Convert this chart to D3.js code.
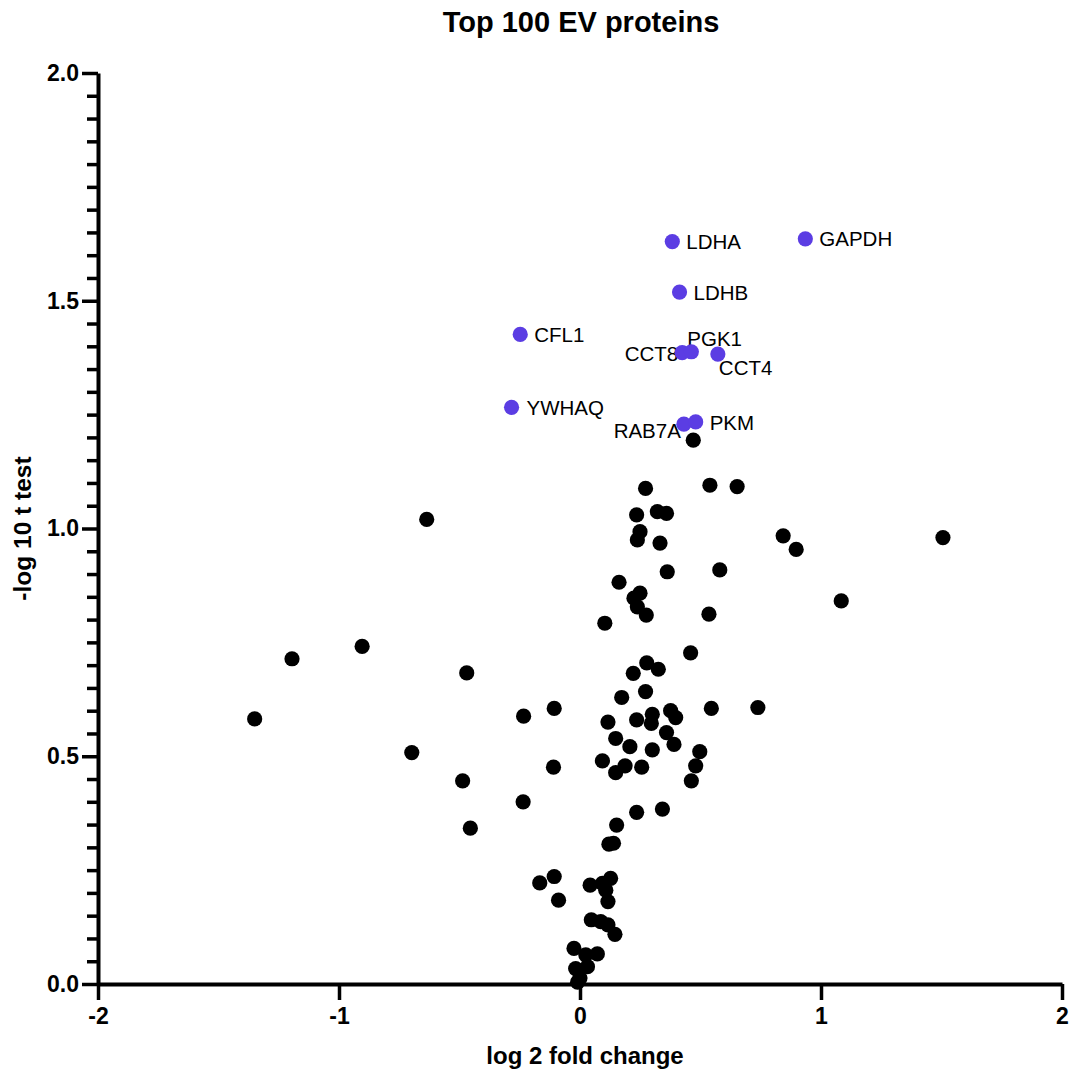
<!DOCTYPE html>
<html>
<head>
<meta charset="utf-8">
<script src="https://cdn.jsdelivr.net/npm/d3@7"></script>
<style>
  html, body { margin: 0; padding: 0; background: #fff; }
  svg { display: block; }
  text { font-family: "Liberation Sans", Arial, Helvetica, sans-serif; }
</style>
</head>
<body>
<div id="chart"></div>
<script>
// ---- Data ----
const chartTitle = "Top 100 EV proteins";
const xTitle = "log 2 fold change";
const yTitle = "-log 10 t test";

const xTicks = [-2, -1, 0, 1, 2];
const yTicks = [0, 0.5, 1.0, 1.5, 2.0];

// Non-highlighted proteins: log2 fold change and -log10 p
const bgLog2FC = [
  0.470, 0.272, 0.539, 0.652, 0.235, 0.321, 0.359, 0.249, 0.238, 0.332,
  0.843, 0.897, 1.506, -0.636, 0.362, 0.580, 0.162, 0.249, 0.224, 0.238,
  0.275, 0.535, 0.103, 1.084, 0.459, 0.277, 0.325, 0.221, 0.272, 0.173,
  -0.107, 0.545, 0.738, 0.116, 0.235, 0.300, 0.296, 0.376, 0.397, 0.148,
  0.359, 0.207, 0.300, 0.390, 0.497, -0.110, 0.093, 0.148, 0.187, 0.256,
  0.480, 0.462, 0.235, 0.342, 0.152, 0.120, 0.139, -0.167, -0.107, -0.089,
  0.042, 0.093, 0.127, 0.107, 0.116, 0.047, 0.086, 0.116, 0.145, -0.025,
  0.024, 0.072, -0.018, 0.031, 0.000, -0.904, -1.195, -1.350, -0.470, -0.234,
  -0.698, -0.487, -0.236, -0.455, -0.010
];
const bgNegLog10P = [
  1.194, 1.088, 1.095, 1.092, 1.030, 1.037, 1.033, 0.993, 0.975, 0.968,
  0.984, 0.954, 0.980, 1.020, 0.905, 0.909, 0.882, 0.858, 0.847, 0.828,
  0.810, 0.812, 0.792, 0.841, 0.727, 0.705, 0.691, 0.682, 0.642, 0.629,
  0.605, 0.605, 0.607, 0.575, 0.580, 0.592, 0.572, 0.600, 0.585, 0.539,
  0.552, 0.521, 0.514, 0.526, 0.510, 0.476, 0.490, 0.464, 0.479, 0.476,
  0.479, 0.446, 0.377, 0.384, 0.349, 0.307, 0.309, 0.222, 0.236, 0.184,
  0.217, 0.221, 0.232, 0.206, 0.181, 0.141, 0.137, 0.130, 0.109, 0.078,
  0.064, 0.066, 0.034, 0.038, 0.013, 0.741, 0.714, 0.582, 0.683, 0.588,
  0.508, 0.446, 0.400, 0.342, 0.004
];

// Highlighted proteins
const hlNames = ["GAPDH", "LDHA", "LDHB", "CFL1", "CCT8", "PGK1", "CCT4", "YWHAQ", "RAB7A", "PKM"];
const hlLog2FC = [0.935, 0.383, 0.413, -0.248, 0.424, 0.462, 0.572, -0.284, 0.431, 0.480];
const hlNegLog10P = [1.636, 1.630, 1.519, 1.426, 1.386, 1.388, 1.383, 1.266, 1.229, 1.234];

// Label placement relative to each highlighted dot (styling only)
const labelPlacement = {
  GAPDH: { dx: 14, dy: 0, anchor: "start" },
  LDHA:  { dx: 14, dy: 0, anchor: "start" },
  LDHB:  { dx: 14, dy: 0, anchor: "start" },
  CFL1:  { dx: 14, dy: 0, anchor: "start" },
  CCT8:  { dx: -4, dy: 1, anchor: "end" },
  PGK1:  { dx: -4, dy: -13, anchor: "start" },
  CCT4:  { dx: 1, dy: 13, anchor: "start" },
  YWHAQ: { dx: 15, dy: 0, anchor: "start" },
  RAB7A: { dx: -3, dy: 6, anchor: "end" },
  PKM:   { dx: 14, dy: 1, anchor: "start" }
};

// ---- Layout ----
const W = 1073, H = 1075;
const margin = { left: 98, top: 73, right: 11, bottom: 91 };
const innerW = W - margin.left - margin.right;   // 964
const innerH = H - margin.top - margin.bottom;   // 911

const svg = d3.select("#chart").append("svg")
  .attr("width", W).attr("height", H);

const x = d3.scaleLinear().domain([-2, 2]).range([margin.left, margin.left + innerW]);
const y = d3.scaleLinear().domain([0, 2]).range([margin.top + innerH, margin.top]);

const highlightColor = "#5b3de3";
const dotR = 7.6;

// Title
svg.append("text")
  .attr("x", 581).attr("y", 22)
  .attr("text-anchor", "middle").attr("dominant-baseline", "central")
  .style("font-size", "29px").style("font-weight", "bold")
  .text(chartTitle);

// Y axis: minor ticks
const minorVals = d3.range(0, 41).map(i => i * 0.05).filter(v => Math.abs(v * 2 - Math.round(v * 2)) > 1e-6);
const yMinor = svg.append("g")
  .attr("transform", `translate(${margin.left},0)`)
  .call(d3.axisLeft(y).tickValues(minorVals).tickSize(11).tickSizeOuter(0).tickFormat(""));
yMinor.select(".domain").remove();
yMinor.selectAll(".tick line").attr("stroke", "#000").attr("stroke-width", 3.5);

// Y axis: major ticks
const yAxis = svg.append("g")
  .attr("transform", `translate(${margin.left},0)`)
  .call(d3.axisLeft(y).tickValues(yTicks).tickSize(16).tickSizeOuter(0).tickPadding(3)
    .tickFormat(d => d.toFixed(1)));
yAxis.select(".domain").attr("stroke", "#000").attr("stroke-width", 4);
yAxis.selectAll(".tick line").attr("stroke", "#000").attr("stroke-width", 3.5);
yAxis.selectAll(".tick text")
  .attr("fill", "#000")
  .style("font-size", "23px").style("font-weight", "bold")
  .style("font-family", "'Liberation Sans', Arial, sans-serif");

// X axis
const xAxis = svg.append("g")
  .attr("transform", `translate(0,${margin.top + innerH})`)
  .call(d3.axisBottom(x).tickValues(xTicks).tickSize(16).tickSizeOuter(0).tickPadding(8)
    .tickFormat(d => String(d)));
xAxis.select(".domain").attr("stroke", "#000").attr("stroke-width", 4);
xAxis.selectAll(".tick line").attr("stroke", "#000").attr("stroke-width", 3.5);
xAxis.selectAll(".tick text")
  .attr("fill", "#000")
  .style("font-size", "23px").style("font-weight", "bold")
  .style("font-family", "'Liberation Sans', Arial, sans-serif");

// Axis titles
svg.append("text")
  .attr("x", 585).attr("y", 1055)
  .attr("text-anchor", "middle").attr("dominant-baseline", "central")
  .style("font-size", "24px").style("font-weight", "bold")
  .text(xTitle);

svg.append("text")
  .attr("transform", `translate(22,${(y(0) + y(2)) / 2}) rotate(-90)`)
  .attr("text-anchor", "middle").attr("dominant-baseline", "central")
  .style("font-size", "24.5px").style("font-weight", "bold")
  .text(yTitle);

// Background points
const bgData = bgLog2FC.map((v, i) => ({ fc: v, p: bgNegLog10P[i] }));
svg.append("g").selectAll("circle").data(bgData).join("circle")
  .attr("cx", d => x(d.fc)).attr("cy", d => y(d.p))
  .attr("r", dotR).attr("fill", "#000");

// Highlighted labels (beneath dots)
const hlData = hlNames.map((n, i) => ({ name: n, fc: hlLog2FC[i], p: hlNegLog10P[i] }));
svg.append("g").selectAll("text").data(hlData).join("text")
  .attr("x", d => x(d.fc) + labelPlacement[d.name].dx)
  .attr("y", d => y(d.p) + labelPlacement[d.name].dy)
  .attr("text-anchor", d => labelPlacement[d.name].anchor)
  .attr("dominant-baseline", "central")
  .style("font-size", "20.5px")
  .attr("fill", "#000")
  .text(d => d.name);

// Highlighted points
svg.append("g").selectAll("circle").data(hlData).join("circle")
  .attr("cx", d => x(d.fc)).attr("cy", d => y(d.p))
  .attr("r", dotR).attr("fill", highlightColor);
</script>
</body>
</html>
